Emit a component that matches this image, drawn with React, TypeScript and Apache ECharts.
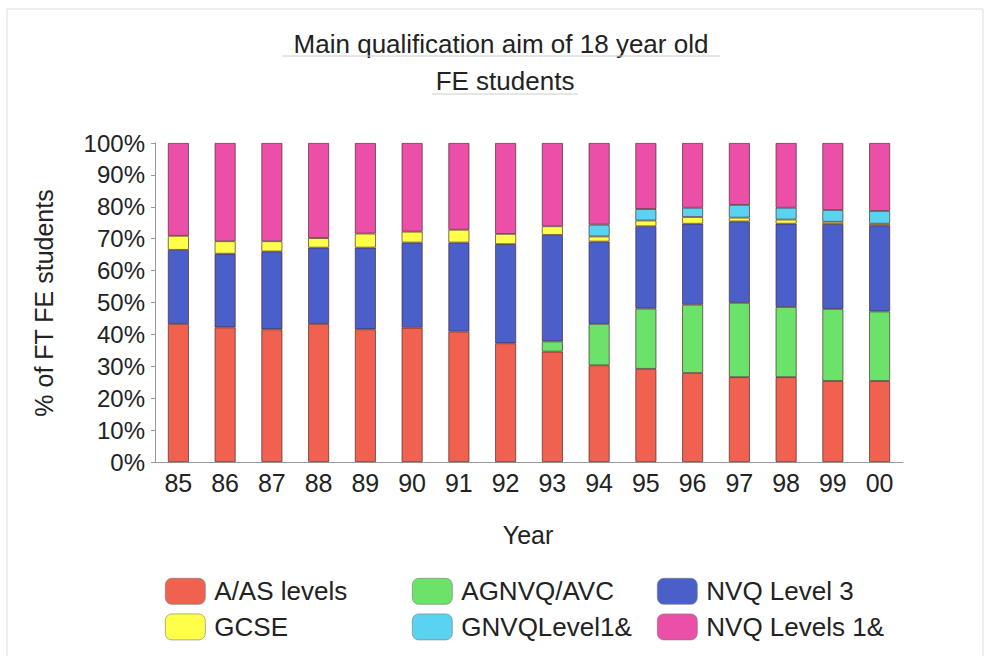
import React, { useEffect, useRef } from "react";
import * as echarts from "echarts";

const years = ["85", "86", "87", "88", "89", "90", "91", "92", "93", "94", "95", "96", "97", "98", "99", "00"];
const aasLevels = [43.3, 42.2, 41.6, 43.3, 41.6, 42.1, 40.9, 37.2, 34.6, 30.3, 29.2, 27.9, 26.6, 26.6, 25.4, 25.4];
const agnvqAvc = [null, null, null, null, null, null, null, null, 3.2, 13.0, 18.9, 21.4, 23.3, 22.0, 22.6, 21.8];
const nvqLevel3 = [23.2, 23.1, 24.4, 23.9, 25.6, 26.7, 27.9, 31.1, 33.4, 25.8, 25.8, 25.4, 25.5, 26.1, 26.6, 27.0];
const gcse = [4.4, 3.9, 3.2, 3.0, 4.4, 3.4, 4.0, 3.2, 2.7, 1.6, 1.8, 2.1, 1.2, 1.3, 0.7, 0.5];
const gnvqLevel1 = [null, null, null, null, null, null, null, null, null, 3.7, 3.6, 2.9, 4.0, 3.7, 3.7, 4.0];
const nvqLevels1 = [29.1, 30.8, 30.8, 29.8, 28.4, 27.8, 27.2, 28.5, 26.1, 25.6, 20.7, 20.3, 19.4, 20.3, 21.0, 21.3];
const yTicks = [0, 10, 20, 30, 40, 50, 60, 70, 80, 90, 100];

const seriesNames = ["A/AS levels", "AGNVQ/AVC", "NVQ Level 3", "GCSE", "GNVQLevel1&", "NVQ Levels 1&"];
const seriesData = [aasLevels, agnvqAvc, nvqLevel3, gcse, gnvqLevel1, nvqLevels1];
const seriesColors = ["#F0624F", "#6BE36B", "#4B5FCB", "#FFFF4A", "#5AD3F2", "#EB4FA8"];

const FONT = "'Liberation Sans', Arial, sans-serif";
const TEXT = "#222";

export default function App() {
  const ref = useRef<HTMLDivElement>(null);
  useEffect(() => {
    if (!ref.current) return;
    const chart = echarts.init(ref.current, null, { renderer: "svg" });
    const legendCol = (left: number, names: string[]) => ({
      orient: "vertical",
      left,
      top: 573,
      itemWidth: 40,
      itemHeight: 26,
      itemGap: 9,
      data: names,
      selectedMode: false,
      itemStyle: { borderColor: "#777", borderWidth: 0.6 },
      textStyle: { fontFamily: FONT, fontSize: 26, color: TEXT, padding: [0, 0, 0, 4] },
    });
    chart.setOption({
      animation: false,
      backgroundColor: "#fff",
      grid: { left: 155, right: 94, top: 143, bottom: 194 },
      legend: [
        legendCol(160, [seriesNames[0], seriesNames[3]]),
        legendCol(407, [seriesNames[1], seriesNames[4]]),
        legendCol(652, [seriesNames[2], seriesNames[5]]),
      ],
      xAxis: {
        type: "category",
        data: years,
        axisLine: { lineStyle: { color: "#999" } },
        axisTick: { length: 4, lineStyle: { color: "#999" } },
        axisLabel: { fontFamily: FONT, fontSize: 25, color: TEXT, margin: 8 },
      },
      yAxis: {
        type: "value",
        min: yTicks[0],
        max: yTicks[yTicks.length - 1],
        interval: 10,
        splitLine: { show: false },
        axisLine: { show: true, lineStyle: { color: "#999" } },
        axisTick: { show: true, length: 4, lineStyle: { color: "#999" } },
        axisLabel: { fontFamily: FONT, fontSize: 24, color: TEXT, margin: 10, formatter: "{value}%" },
      },
      series: seriesNames.map((name, i) => ({
        name,
        type: "bar",
        stack: "total",
        barWidth: 21,
        data: seriesData[i],
        itemStyle: { color: seriesColors[i], borderColor: "rgba(70,40,40,0.85)", borderWidth: 0.8 },
      })),
      graphic: [
        { type: "rect", shape: { x: 7, y: 9, width: 976, height: 660 }, style: { fill: "none", stroke: "#ddd", lineWidth: 1 }, silent: true },
        { type: "text", x: 501, y: 44, style: { text: "Main qualification aim of 18 year old", fontFamily: FONT, fontSize: 26, fill: TEXT, align: "center", verticalAlign: "middle" } },
        { type: "text", x: 505, y: 81, style: { text: "FE students", fontFamily: FONT, fontSize: 26, fill: TEXT, align: "center", verticalAlign: "middle" } },
        { type: "line", shape: { x1: 282, y1: 56, x2: 720, y2: 56 }, style: { stroke: "#ccc", lineWidth: 1 } },
        { type: "line", shape: { x1: 432, y1: 94, x2: 578, y2: 94 }, style: { stroke: "#ccc", lineWidth: 1 } },
        { type: "text", x: 44, y: 303, rotation: Math.PI / 2, style: { text: "% of FT FE students", fontFamily: FONT, fontSize: 25, fill: TEXT, align: "center", verticalAlign: "middle" } },
        { type: "text", x: 528, y: 535, style: { text: "Year", fontFamily: FONT, fontSize: 25, fill: TEXT, align: "center", verticalAlign: "middle" } },
      ],
    });
    return () => chart.dispose();
  }, []);
  return <div ref={ref} style={{ position: "fixed", left: 0, top: 0, width: 997, height: 656 }} />;
}
